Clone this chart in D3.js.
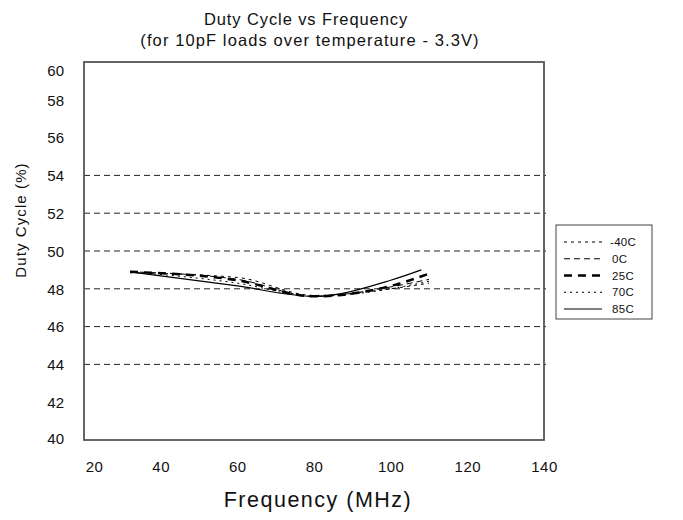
<!DOCTYPE html>
<html><head><meta charset="utf-8">
<script src="https://cdn.jsdelivr.net/npm/d3@7"></script>
<style>body{margin:0;background:#fff}svg{display:block}text{font-family:"Liberation Sans",Arial,sans-serif;fill:#111}</style>
</head><body><svg id="c" width="683" height="520"></svg>
<script>
const seriesNames = ["-40C","0C","25C","70C","85C"];
const freqM40 = [32,60,80,100,110];
const dutyM40 = [48.85,48.6,47.65,48.0,48.3];
const freq0 = [32,60,80,100,110];
const duty0 = [48.9,48.5,47.6,48.1,48.5];
const freq25 = [32,60,80,100,110];
const duty25 = [48.9,48.45,47.6,48.15,48.8];
const freq70 = [32,60,80,100,110];
const duty70 = [48.9,48.3,47.6,48.0,48.4];
const freq85 = [32,60,80,100,108];
const duty85 = [48.9,48.15,47.6,48.45,49.0];
const yTicks = [40,42,44,46,48,50,52,54,56,58,60];
const xTicks = [20,40,60,80,100,120,140];
const gridValues = [44,46,48,50,52,54];

const styles = {
  "-40C": {dash:"3,4", w:1},
  "0C": {dash:"6,4", w:1},
  "25C": {dash:"8,6", w:2.5},
  "70C": {dash:"2,4", w:1},
  "85C": {dash:null, w:1.2}
};
const data = [
  {name:"-40C", f:freqM40, d:dutyM40},
  {name:"0C", f:freq0, d:duty0},
  {name:"25C", f:freq25, d:duty25},
  {name:"70C", f:freq70, d:duty70},
  {name:"85C", f:freq85, d:duty85}
];

const svg = d3.select("#c");
const L=84, R=544, T=62, B=440;
const x = d3.scaleLinear().domain([20,140]).range([L,R]);
const y = d3.scaleLinear().domain([40,60]).range([B,T]);

svg.append("text").attr("x",306).attr("y",25).attr("text-anchor","middle").attr("font-size",16.5).attr("letter-spacing",0.9).text("Duty Cycle vs Frequency");
svg.append("text").attr("x",310).attr("y",46).attr("text-anchor","middle").attr("font-size",16.5).attr("letter-spacing",1.1).text("(for 10pF loads over temperature - 3.3V)");

// gridlines
svg.append("g").selectAll("line").data(gridValues).join("line")
  .attr("x1",L).attr("x2",R+2).attr("y1",d=>y(d)).attr("y2",d=>y(d))
  .attr("stroke","#222").attr("stroke-width",1).attr("stroke-dasharray","6,4");

// box
svg.append("rect").attr("x",L).attr("y",T).attr("width",R-L).attr("height",B-T)
  .attr("fill","none").attr("stroke","#555").attr("stroke-width",1.8);

// y axis labels
const ya = svg.append("g").attr("transform",`translate(${L-20},0)`)
  .call(d3.axisLeft(y).tickValues(yTicks).tickSize(0).tickPadding(0).tickFormat(d3.format("d")));
ya.select(".domain").remove();
ya.selectAll("text").attr("font-size",15).attr("dy","0.35em").attr("y",d=>d===60?8:(d===40?-2:0)).style("font-family","Liberation Sans, Arial, sans-serif").attr("fill","#111");

// x axis labels
const xa = svg.append("g").attr("transform",`translate(0,${B+21})`)
  .call(d3.axisBottom(x).tickValues(xTicks).tickSize(0).tickPadding(0).tickFormat(d3.format("d")));
xa.select(".domain").remove();
xa.selectAll("text").attr("font-size",15).attr("letter-spacing",0.5).style("font-family","Liberation Sans, Arial, sans-serif").attr("fill","#111");
xa.selectAll(".tick").filter(d=>d===20).select("text").attr("dx",10);

svg.append("text").attr("transform","translate(26,220) rotate(-90)").attr("text-anchor","middle").attr("font-size",15).attr("letter-spacing",1.1).text("Duty Cycle (%)");
svg.append("text").attr("x",318).attr("y",507).attr("text-anchor","middle").attr("font-size",21.5).attr("letter-spacing",1.5).text("Frequency (MHz)");

// lines
const line = d3.line().x(p=>x(p[0])).y(p=>y(p[1])).curve(d3.curveMonotoneX);
svg.append("g").selectAll("path").data(data).join("path")
  .attr("d",s=>line(s.f.map((f,i)=>[f,s.d[i]])))
  .attr("fill","none").attr("stroke","#000")
  .attr("stroke-width",s=>styles[s.name].w)
  .attr("stroke-dasharray",s=>styles[s.name].dash);

// legend
const lg = svg.append("g");
lg.append("rect").attr("x",556).attr("y",225).attr("width",96).attr("height",94)
  .attr("fill","#fff").attr("stroke","#444").attr("stroke-width",1);
const ly = d3.scalePoint().domain(seriesNames).range([242,309]);
seriesNames.forEach(n=>{
  lg.append("line").attr("x1",564).attr("x2",602).attr("y1",ly(n)).attr("y2",ly(n))
    .attr("stroke","#000").attr("stroke-width",styles[n].w).attr("stroke-dasharray",styles[n].dash);
  lg.append("text").attr("x",n==="-40C"?610:612).attr("y",ly(n)).attr("dy","0.35em").attr("font-size",11.5).attr("letter-spacing",0.3).text(n);
});
</script></body></html>
